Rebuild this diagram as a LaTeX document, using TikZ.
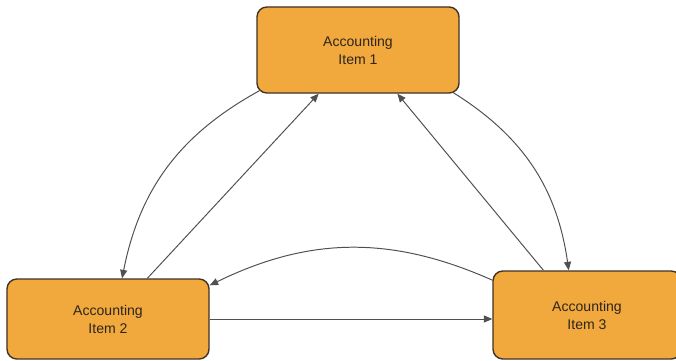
\documentclass[tikz,border=0pt]{standalone}
\usepackage{fontspec}
\setmainfont{Liberation Sans}
\usepackage{tikz}
\usetikzlibrary{arrows.meta}

\definecolor{itemfill}{RGB}{241,168,60}
\definecolor{itemline}{RGB}{62,50,38}
\definecolor{itemtext}{RGB}{45,38,30}
\definecolor{linkgray}{RGB}{80,80,80}

\tikzset{
	item/.style={draw=itemline, line width=1pt, fill=itemfill, rounded corners=7pt,
		minimum width=5.05cm, minimum height=2.1cm, align=center,
		text=itemtext, font=\fontsize{10}{12.8}\selectfont},
	link/.style={draw=linkgray, line width=0.7pt, -{Triangle[length=6pt,width=5pt]}}
}

\begin{document}
\begin{tikzpicture}
			\useasboundingbox (0,0) rectangle (16.9,9);
			\node[item, minimum height=2.15cm] (item1) at (8.95,7.75) {Accounting\\Item 1};
			\node[item, minimum height=2cm] (item2) at (2.7,1.025) {Accounting\\Item 2};
			\node[item, minimum width=4.7cm, minimum height=2.2cm] (item3) at (14.675,1.125) {Accounting\\Item 3};
			% item 1 and item 2
			\draw[link] ([xshift=2pt,yshift=2pt]item1.south west) to[bend right=25] ([xshift=10pt]item2.north);
			\draw[link] ([xshift=28pt]item2.north) -- ([xshift=-28pt]item1.south);
			% item 1 and item 3
			\draw[link] ([xshift=-31pt]item3.north) -- ([xshift=28pt]item1.south);
			\draw[link] ([xshift=-5pt,yshift=1pt]item1.south east) to[bend left=25] ([xshift=-13pt]item3.north);
			% item 2 and item 3
			\draw[link] ([yshift=-7pt]item3.north west) to[bend right=25] ([yshift=-5pt]item2.north east);
			\draw[link] (item2.east) -- (item2.east -| item3.west);
		\end{tikzpicture}
\end{document}
